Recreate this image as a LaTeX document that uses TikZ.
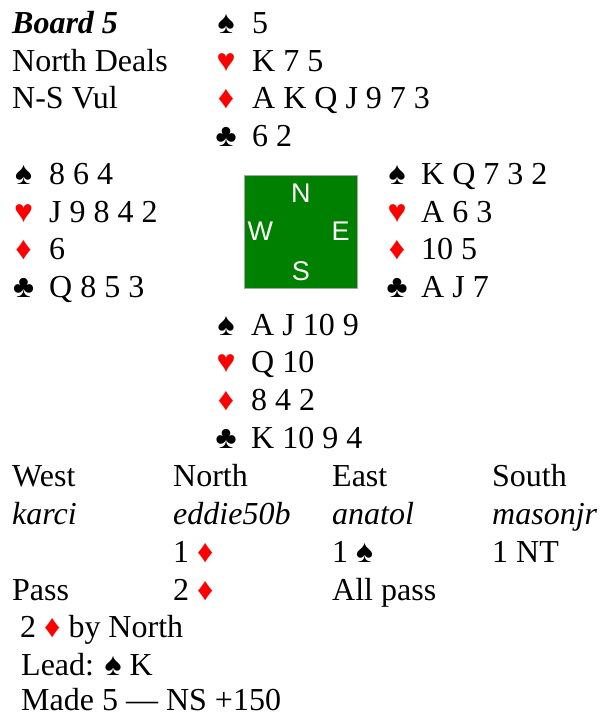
\documentclass[tikz,border=0pt]{standalone}
\usepackage{fontspec}
\setmainfont{Liberation Serif}
\newfontfamily\compassfont{Liberation Sans}
\usetikzlibrary{positioning}
\definecolor{feltgreen}{RGB}{0,128,0}
\definecolor{suitred}{RGB}{255,0,0}
\def\suitS{♠}
\def\suitH{\textcolor{suitred}{♥}}
\def\suitD{\textcolor{suitred}{♦}}
\def\suitC{♣}
\tikzset{
	txt/.style={anchor=base west, inner sep=0pt, font=\fontsize{32}{37}\selectfont},
	suit/.style={anchor=base, inner sep=0pt, font=\fontsize{32}{37}\selectfont},
	compass/.style={text=white, inner sep=0pt, font=\compassfont\fontsize{27}{27}\selectfont},
}

\begin{document}
\begin{tikzpicture}[x=1pt, y=-1pt]
		%%%%% START %%%%%
		\useasboundingbox (0, 0) rectangle (602, 715);
		
		\node[txt] (board) at (12, 33.5) {\textbf{\textit{Board 5}}};
		\node[txt] (dealer) at (12, 71.2) {North Deals};
		\node[txt] (vul) at (12, 108.9) {N-S Vul};
		
		% north
		\foreach \s/\c [count=\i from 0] in {\suitS/5, \suitH/K 7 5, \suitD/A K Q J 9 7 3, \suitC/6 2}{
			\node[suit] (northsuit\i) at (226, 33.5+37.7*\i) {\s};
			\node[txt] (northcards\i) at (252, 33.5+37.7*\i) {\c};
		}
		
		% west
		\foreach \s/\c [count=\i from 0] in {\suitS/8 6 4, \suitH/J 9 8 4 2, \suitD/6, \suitC/Q 8 5 3}{
			\node[suit] (westsuit\i) at (23.5, 184.3+37.7*\i) {\s};
			\node[txt] (westcards\i) at (49, 184.3+37.7*\i) {\c};
		}
		
		% east
		\foreach \s/\c [count=\i from 0] in {\suitS/K Q 7 3 2, \suitH/A 6 3, \suitD/10 5, \suitC/A J 7}{
			\node[suit] (eastsuit\i) at (397, 184.3+37.7*\i) {\s};
			\node[txt] (eastcards\i) at (421, 184.3+37.7*\i) {\c};
		}
		
		% south
		\foreach \s/\c [count=\i from 0] in {\suitS/A J 10 9, \suitH/Q 10, \suitD/8 4 2, \suitC/K 10 9 4}{
			\node[suit] (southsuit\i) at (226, 335.1+37.7*\i) {\s};
			\node[txt] (southcards\i) at (251, 335.1+37.7*\i) {\c};
		}
		
		\node[draw=black!35, fill=feltgreen, line width=0.8pt, minimum size=112.5pt, inner sep=0pt] (table) at (300.8, 231.7) {};
		\node[compass, below=8.3pt of table.north] (N) {N};
		\node[compass, above=7.6pt of table.south] (S) {S};
		\node[compass, right=3.2pt of table.west] (W) {W};
		\node[compass, left=7.7pt of table.east] (E) {E};
		
		% auction
		\node[txt] (hwest) at (12, 486.9) {West};
		\node[txt] (hnorth) at (173, 486.9) {North};
		\node[txt] (heast) at (332, 486.9) {East};
		\node[txt] (hsouth) at (492, 486.9) {South};
		\node[txt] (pwest) at (12, 524.6) {\textit{karci}};
		\node[txt] (pnorth) at (173, 524.6) {\textit{eddie50b}};
		\node[txt] (peast) at (332, 524.6) {\textit{anatol}};
		\node[txt] (psouth) at (492, 524.6) {\textit{masonjr}};
		\node[txt] (bid1) at (173, 562.3) {1 \suitD};
		\node[txt] (bid2) at (332, 562.3) {1 \suitS};
		\node[txt] (bid3) at (492, 562.3) {1 NT};
		\node[txt] (bid4) at (12, 600) {Pass};
		\node[txt] (bid5) at (173, 600) {2 \suitD};
		\node[txt] (bid6) at (332, 600) {All pass};
		
		\node[txt] (contract) at (20, 637.7) {2 \suitD{} by North};
		\node[txt] (lead) at (21, 675) {Lead: \suitS{} K};
		\node[txt] (result) at (21, 710.5) {Made 5 --- NS +150};
		
		%%%%% END %%%%%
\end{tikzpicture}
\end{document}
